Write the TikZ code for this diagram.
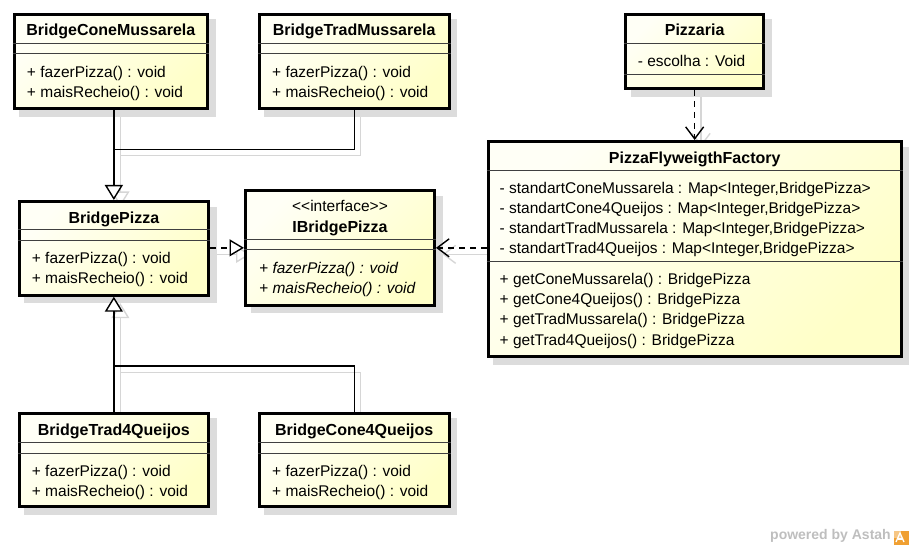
\documentclass[tikz,border=0pt]{standalone}
\usepackage{fontspec}
\setmainfont{Liberation Sans}
\usetikzlibrary{arrows.meta,shadows,calc}
\pgfdeclarelayer{background}
\pgfsetlayers{background,main}
\definecolor{clsA}{RGB}{255,255,246}
\definecolor{clsB}{RGB}{255,255,200}
\definecolor{shgray}{RGB}{220,220,220}
\definecolor{wmgray}{RGB}{190,190,190}
\definecolor{logoorange}{RGB}{240,160,50}
\begin{document}
\begin{tikzpicture}[x=1pt,y=-1pt,
  cls/.style={draw=black, line width=3pt, top color=clsA, bottom color=clsB, shading angle=45,
    drop shadow={shadow xshift=6.6pt, shadow yshift=-6.6pt, fill=shgray, draw=shgray, line width=3pt, opacity=1},
    inner sep=0pt, anchor=north west},
  sep/.style={line width=1pt, draw=black!75},
  ttl/.style={font=\fontsize{16}{20}\selectfont\bfseries, anchor=base, inner sep=0pt},
  row/.style={font=\fontsize{15.5}{20}\selectfont, anchor=base west, inner sep=0pt},
  irow/.style={font=\fontsize{15.5}{20}\selectfont\itshape, anchor=base west, inner sep=0pt},
  conn/.style={line width=1.4pt, draw=black},
  gen/.style={conn, -{Triangle[length=15pt, width=18pt, fill=white]}},
  real/.style={conn, dash pattern=on 6pt off 5pt, -{Triangle[length=14.5pt, width=17pt, fill=white]}},
  dep/.style={conn, dash pattern=on 6pt off 5pt, -{Straight Barb[length=12pt, width=18pt]}},
  shline/.style={line width=1.4pt, draw=black!16},
  shgen/.style={shline, -{Triangle[length=15pt, width=18pt, fill=white]}},
  shreal/.style={shline, -{Triangle[length=14.5pt, width=17pt, fill=white]}},
  shdep/.style={shline, -{Straight Barb[length=12pt, width=18pt]}}
]
\useasboundingbox (0,0) rectangle (914,548);

% ---------- classes ----------
\node[cls, minimum width=193.3pt, minimum height=94.3pt] (bcm) at (12.7,12.7) {};
\node[cls, minimum width=190pt, minimum height=94.3pt] (btm) at (257.7,12.7) {};
\node[cls, minimum width=189.3pt, minimum height=93.7pt] (bp) at (17.7,200) {};
\node[cls, minimum width=189pt, minimum height=114.7pt] (ibp) at (244,189) {};
\node[cls, minimum width=137.7pt, minimum height=74.3pt] (piz) at (624.3,12.7) {};
\node[cls, minimum width=413pt, minimum height=215pt] (pff) at (486.7,140) {};
\node[cls, minimum width=189.3pt, minimum height=93.6pt] (bt4) at (17.7,411.7) {};
\node[cls, minimum width=190pt, minimum height=93.6pt] (bc4) at (257.7,411.7) {};

% ---------- separators ----------
\foreach \n/\a/\b in {bcm/43.3/54, btm/43.3/54, bp/230/240.7, ibp/240/250, piz/44/75, pff/170.7/261.7, bt4/442.7/453.3, bc4/442.7/453.3}{
  \draw[sep] (\n.west |- 0,\a) -- (\n.east |- 0,\a);
  \draw[sep] (\n.west |- 0,\b) -- (\n.east |- 0,\b);
}

% ---------- texts ----------
\node[ttl] (bcm-t) at (bcm.center |- 0,36) {BridgeConeMussarela};
\node[row] (bcm-m1) at (26.8,77.5) {+ fazerPizza() : void};
\node[row] (bcm-m2) at (26.8,97.8) {+ maisRecheio() : void};

\node[ttl] (btm-t) at (btm.center |- 0,36) {BridgeTradMussarela};
\node[row] (btm-m1) at (272,77.5) {+ fazerPizza() : void};
\node[row] (btm-m2) at (272,97.8) {+ maisRecheio() : void};

\node[ttl] (bp-t) at (bp.center |- 0,223.5) {BridgePizza};
\node[row] (bp-m1) at (31.7,264) {+ fazerPizza() : void};
\node[row] (bp-m2) at (31.7,284) {+ maisRecheio() : void};

\node[row, anchor=base] (ibp-s) at (ibp.center |- 0,211.5) {<\kern0pt<interface>\kern0pt>};
\node[ttl] (ibp-t) at (ibp.center |- 0,232.5) {IBridgePizza};
\node[irow] (ibp-m1) at (259,274) {+ fazerPizza() : void};
\node[irow] (ibp-m2) at (259,294) {+ maisRecheio() : void};

\node[ttl] (piz-t) at (piz.center |- 0,36) {Pizzaria};
\node[row] (piz-a1) at (637.6,67) {- escolha : Void};

\node[ttl] (pff-t) at (pff.center |- 0,163.5) {PizzaFlyweigthFactory};
\node[row] (pff-a1) at (499.5,193.5) {- standartConeMussarela : Map<Integer,BridgePizza>};
\node[row] (pff-a2) at (499.5,213.5) {- standartCone4Queijos : Map<Integer,BridgePizza>};
\node[row] (pff-a3) at (499.5,233.5) {- standartTradMussarela : Map<Integer,BridgePizza>};
\node[row] (pff-a4) at (499.5,253.5) {- standartTrad4Queijos : Map<Integer,BridgePizza>};
\node[row] (pff-m1) at (499.5,285) {+ getConeMussarela() : BridgePizza};
\node[row] (pff-m2) at (499.5,305) {+ getCone4Queijos() : BridgePizza};
\node[row] (pff-m3) at (499.5,325) {+ getTradMussarela() : BridgePizza};
\node[row] (pff-m4) at (499.5,345) {+ getTrad4Queijos() : BridgePizza};

\node[ttl] (bt4-t) at (bt4.center |- 0,435.7) {BridgeTrad4Queijos};
\node[row] (bt4-m1) at (31.7,476) {+ fazerPizza() : void};
\node[row] (bt4-m2) at (31.7,496) {+ maisRecheio() : void};

\node[ttl] (bc4-t) at (bc4.center |- 0,435.7) {BridgeCone4Queijos};
\node[row] (bc4-m1) at (272,476) {+ fazerPizza() : void};
\node[row] (bc4-m2) at (272,496) {+ maisRecheio() : void};

% ---------- junction coordinates ----------
\coordinate (j1) at (bp.north |- 0,149.3);
\coordinate (j2) at (bp.south |- 0,366);

% ---------- connector shadows ----------
\begin{pgfonlayer}{background}
 \begin{scope}[transform canvas={xshift=6.5pt, yshift=-6.5pt}]
  \draw[shline] (btm.south) |- (j1);
  \draw[shgen] (bcm.south -| j1) -- (bp.north);
  \draw[shline] (bc4.north) |- (j2);
  \draw[shgen] (bt4.north -| j2) -- (bp.south);
  \draw[shreal] (bp.east |- ibp.west) -- (ibp.west);
  \draw[shdep] (piz.south) -- (pff.north -| piz.south);
  \draw[shdep] (pff.west |- ibp.east) -- (ibp.east);
 \end{scope}
\end{pgfonlayer}

% ---------- connectors ----------
\draw[conn] (btm.south) |- (j1);
\draw[gen] (bcm.south -| j1) -- (bp.north);
\draw[conn] (bc4.north) |- (j2);
\draw[gen] (bt4.north -| j2) -- (bp.south);
\draw[real] (bp.east |- ibp.west) -- (ibp.west);
\draw[dep] (piz.south) -- (pff.north -| piz.south);
\draw[dep] (pff.west |- ibp.east) -- (ibp.east);

% ---------- watermark ----------
\node[font=\fontsize{14}{16}\selectfont\bfseries, text=wmgray, anchor=base west, inner sep=0pt] (wm) at (770,539.5) {powered by Astah};
\fill[logoorange] (893.5,530.5) rectangle (908.5,544.5);
\fill[logoorange!60] (893.5,530.5) rectangle (901,537.5);
\draw[white, line width=1.3pt] (896,542) -- (900,533) -- (904,542);
\draw[white, line width=1.1pt] (897.5,539) -- (902.5,539);
\end{tikzpicture}
\end{document}
